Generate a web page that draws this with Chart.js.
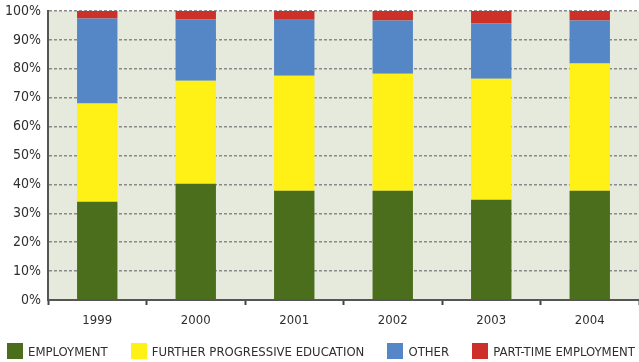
<!DOCTYPE html>
<html>
<head>
<meta charset="utf-8">
<script src="https://cdn.jsdelivr.net/npm/chart.js@4/dist/chart.umd.min.js"></script>
<style>
  html, body { margin: 0; padding: 0; background: #fff; }
  #wrap { position: relative; width: 639px; height: 362px; }
  #legend {
    position: absolute; left: 7px; right: 4px; top: 343px;
    display: flex; justify-content: space-between; align-items: center;
    font: 13px "DejaVu Sans Condensed", "DejaVu Sans", sans-serif; color: #2e2e2e;
  }
  #legend .item { display: flex; align-items: center; white-space: nowrap; }
  #legend .box { width: 16px; height: 16px; margin-right: 5px; }
</style>
</head>
<body>
<div id="wrap">
  <canvas id="chart" width="639" height="362"></canvas>
  <div id="legend"></div>
</div>
<script>
const years = ['1999', '2000', '2001', '2002', '2003', '2004'];
const employment = [34, 40.2, 37.8, 37.8, 34.7, 37.8];
const furtherEducation = [34, 35.7, 39.8, 40.5, 41.9, 44];
const other = [29.4, 21.2, 19.4, 18.4, 19.1, 14.9];
const partTime = [2.6, 2.9, 3, 3.3, 4.3, 3.3];
const yTicks = [0, 10, 20, 30, 40, 50, 60, 70, 80, 90, 100];

const seriesNames = ['EMPLOYMENT', 'FURTHER PROGRESSIVE EDUCATION', 'OTHER', 'PART-TIME EMPLOYMENT'];
const seriesColors = ['#4a6e1c', '#fff015', '#5586c5', '#cc3027'];
const seriesData = [employment, furtherEducation, other, partTime];

const textColor = '#2e2e2e';
const fontFamily = '"DejaVu Sans Condensed", "DejaVu Sans", sans-serif';

const plotBackground = {
    id: 'plotBackground',
    beforeDraw(chart) {
        const { ctx, chartArea } = chart;
        ctx.save();
        ctx.fillStyle = '#e5eadd';
        ctx.fillRect(chartArea.left, chartArea.top, chartArea.right - chartArea.left, chartArea.bottom - chartArea.top);
        ctx.restore();
    }
};

const chart = new Chart(document.getElementById('chart'), {
    type: 'bar',
    data: {
        labels: years,
        datasets: seriesData.map((d, i) => ({
            label: seriesNames[i],
            data: d,
            backgroundColor: seriesColors[i],
            borderWidth: 0,
            categoryPercentage: 1,
            barPercentage: 0.41
        }))
    },
    options: {
        responsive: false,
        animation: false,
        layout: { padding: { top: 11, bottom: 28, left: 0, right: 0 } },
        plugins: {
            legend: { display: false },
            tooltip: { enabled: false }
        },
        scales: {
            x: {
                stacked: true,
                afterFit(scale) {
                    scale.height = 34;
                    scale.paddingLeft = 0;
                    scale.paddingRight = 0;
                },
                grid: {
                    offset: true,
                    drawOnChartArea: false,
                    drawTicks: true,
                    tickLength: 5,
                    tickWidth: 2,
                    tickColor: '#444'
                },
                border: { display: true, color: '#555', width: 2 },
                ticks: {
                    color: textColor,
                    padding: 8,
                    font: { family: fontFamily, size: 13 }
                }
            },
            y: {
                stacked: true,
                min: 0,
                max: 100,
                afterFit(scale) {
                    scale.width = 48;
                    scale.paddingTop = 0;
                    scale.paddingBottom = 0;
                },
                afterBuildTicks(scale) { scale.ticks = yTicks.map(v => ({ value: v })); },
                grid: {
                    drawTicks: false,
                    color: '#8a8a8a',
                    lineWidth: 1.5
                },
                border: { display: true, color: '#555', width: 2, dash: [3, 2] },
                ticks: {
                    color: textColor,
                    padding: 7,
                    font: { family: fontFamily, size: 14 },
                    callback: v => v + '%'
                }
            }
        }
    },
    plugins: [plotBackground]
});

const legend = document.getElementById('legend');
seriesNames.forEach((name, i) => {
    const item = document.createElement('div');
    item.className = 'item';
    const box = document.createElement('span');
    box.className = 'box';
    box.style.background = seriesColors[i];
    const label = document.createElement('span');
    label.textContent = name;
    item.appendChild(box);
    item.appendChild(label);
    legend.appendChild(item);
});
</script>
</body>
</html>
